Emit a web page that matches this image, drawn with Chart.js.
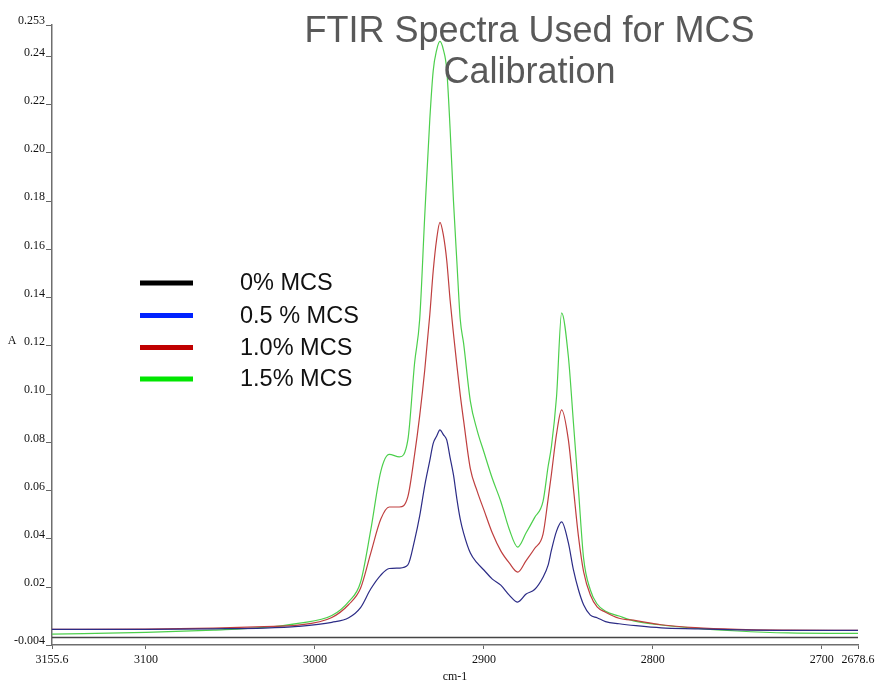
<!DOCTYPE html>
<html><head><meta charset="utf-8">
<script src="https://cdn.jsdelivr.net/npm/chart.js@4"></script>
<style>html,body{margin:0;padding:0;background:#fff}canvas{display:block}</style>
</head><body>
<canvas id="c" width="877" height="686"></canvas>
<script>
const titleLines = ['FTIR Spectra Used for MCS', 'Calibration'];
const seriesLabels = ['0% MCS', '0.5 % MCS', '1.0% MCS', '1.5% MCS'];
const xAxisTitle = 'cm-1';
const yAxisTitle = 'A';

const wavenumbers = [3155.6, 3100, 3060, 3030, 3010, 2990, 2980, 2973, 2967, 2961,
  2956, 2950, 2945, 2941, 2938, 2935, 2932, 2930, 2928, 2926,
  2924, 2922, 2920, 2918, 2916, 2914, 2912, 2908, 2904, 2900,
  2895, 2890, 2885, 2880, 2875, 2870, 2865, 2862, 2860, 2857,
  2854, 2850, 2847, 2844, 2841, 2837, 2833, 2828, 2820, 2810,
  2795, 2775, 2750, 2720, 2678.6];

const abs15 = [0.0005, 0.0012, 0.0022, 0.0033, 0.0050, 0.0082, 0.0140, 0.0220, 0.0435, 0.0680,
  0.0750, 0.0740, 0.0810, 0.1130, 0.1310, 0.1740, 0.2140, 0.2340, 0.2425, 0.2462,
  0.2428, 0.2345, 0.2100, 0.1800, 0.1550, 0.1310, 0.1210, 0.0970, 0.0850, 0.0760,
  0.0650, 0.0555, 0.0440, 0.0366, 0.0425, 0.0488, 0.0555, 0.0700, 0.0785, 0.0990,
  0.1337, 0.1155, 0.0880, 0.0600, 0.0320, 0.0188, 0.0130, 0.0100, 0.0080, 0.0058,
  0.0043, 0.0030, 0.0018, 0.0010, 0.0008];

const abs10 = [0.0025, 0.0026, 0.0030, 0.0036, 0.0042, 0.0074, 0.0128, 0.0195, 0.0340, 0.0482,
  0.0532, 0.0532, 0.0575, 0.0750, 0.0910, 0.1100, 0.1330, 0.1510, 0.1640, 0.1712,
  0.1660, 0.1555, 0.1390, 0.1250, 0.1120, 0.0997, 0.0890, 0.0690, 0.0598, 0.0520,
  0.0424, 0.0350, 0.0300, 0.0262, 0.0310, 0.0360, 0.0420, 0.0565, 0.0670, 0.0835,
  0.0935, 0.0810, 0.0608, 0.0408, 0.0264, 0.0167, 0.0118, 0.0096, 0.0071, 0.0061,
  0.0044, 0.0032, 0.0025, 0.0022, 0.0021];

const abs05 = [0.0025, 0.0025, 0.0027, 0.0030, 0.0037, 0.0054, 0.0073, 0.0115, 0.0192, 0.0250,
  0.0277, 0.0279, 0.0292, 0.0395, 0.0495, 0.0621, 0.0725, 0.0796, 0.0825, 0.0852,
  0.0832, 0.0810, 0.0737, 0.0665, 0.0566, 0.0482, 0.0424, 0.0341, 0.0300, 0.0271,
  0.0233, 0.0208, 0.0167, 0.0138, 0.0171, 0.0190, 0.0241, 0.0291, 0.0354, 0.0432,
  0.0470, 0.0383, 0.0271, 0.0188, 0.0127, 0.0084, 0.0073, 0.0057, 0.0048, 0.0040,
  0.0031, 0.0027, 0.0023, 0.0021, 0.0021];

const zeroWavenumbers = [3155.6, 2678.6];
const abs00 = [-0.0009, -0.0009];

const xTickValues = [3155.6, 3100, 3000, 2900, 2800, 2700, 2678.6];
const xTickLabels = ['3155.6', '3100', '3000', '2900', '2800', '2700', '2678.6'];
const yTickValues = [-0.004, 0.02, 0.04, 0.06, 0.08, 0.10, 0.12, 0.14, 0.16, 0.18, 0.20, 0.22, 0.24, 0.253];
const yTickLabels = ['-0.004', '0.02', '0.04', '0.06', '0.08', '0.10', '0.12', '0.14', '0.16', '0.18', '0.20', '0.22', '0.24', '0.253'];

const lineColors = ['#444444', '#2c2c86', '#bf3f3f', '#4ccf4c'];
const legendColors = ['#000000', '#0022ff', '#c00000', '#00e600'];

const pts = (xs, ys) => xs.map((x, i) => ({x: x, y: ys[i]}));
const serif = '"Liberation Serif", "Times New Roman", serif';
const sans = '"Liberation Sans", Arial, sans-serif';

const overlay = {
  id: 'overlay',
  afterDraw(chart) {
    const ctx = chart.ctx;
    ctx.save();
    ctx.fillStyle = '#595959';
    ctx.font = '36px ' + sans;
    ctx.textAlign = 'center';
    ctx.textBaseline = 'alphabetic';
    ctx.fillText(titleLines[0], 529.5, 42);
    ctx.fillText(titleLines[1], 529.5, 83);

    ctx.font = '23.5px ' + sans;
    ctx.textAlign = 'left';
    ctx.textBaseline = 'middle';
    const ly = [283, 315.5, 347.5, 379];
    seriesLabels.forEach((lab, i) => {
      ctx.strokeStyle = legendColors[i];
      ctx.lineWidth = 5;
      ctx.beginPath();
      ctx.moveTo(140, ly[i]);
      ctx.lineTo(193, ly[i]);
      ctx.stroke();
      ctx.fillStyle = '#111111';
      ctx.fillText(lab, 240, ly[i] + 1);
    });

    ctx.font = '12px ' + serif;
    ctx.fillStyle = '#111111';
    ctx.textAlign = 'center';
    ctx.fillText(yAxisTitle, 12, 341);
    ctx.restore();
  }
};

new Chart(document.getElementById('c'), {
  type: 'line',
  data: {
    datasets: [
      {label: seriesLabels[0], data: pts(zeroWavenumbers, abs00), borderColor: lineColors[0], borderWidth: 1.6},
      {label: seriesLabels[1], data: pts(wavenumbers, abs05), borderColor: lineColors[1], borderWidth: 1.2},
      {label: seriesLabels[2], data: pts(wavenumbers, abs10), borderColor: lineColors[2], borderWidth: 1.2},
      {label: seriesLabels[3], data: pts(wavenumbers, abs15), borderColor: lineColors[3], borderWidth: 1.2}
    ]
  },
  options: {
    responsive: false,
    animation: false,
    devicePixelRatio: 1,
    layout: {padding: {top: 25, right: 19, left: 0, bottom: 0}},
    elements: {point: {radius: 0}, line: {cubicInterpolationMode: 'monotone', fill: false}},
    plugins: {legend: {display: false}, title: {display: false}, tooltip: {enabled: false}},
    scales: {
      x: {
        type: 'linear', reverse: true, min: 2678.6, max: 3155.6,
        afterBuildTicks: s => { s.ticks = xTickValues.map(v => ({value: v})); },
        afterFit: s => { s.height = 41; s.paddingLeft = 0; s.paddingRight = 0; },
        ticks: {autoSkip: false, maxRotation: 0, minRotation: 0, padding: 4, color: '#111',
          font: {family: serif, size: 12}, callback: (v, i) => xTickLabels[i]},
        grid: {display: true, drawOnChartArea: false, drawTicks: true, tickLength: 4, color: '#666', lineWidth: 1},
        border: {display: true, color: '#6e6e6e', width: 1.5},
        title: {display: true, text: xAxisTitle, color: '#111', font: {family: serif, size: 12}, padding: {top: 0, bottom: 2}}
      },
      y: {
        type: 'linear', min: -0.004, max: 0.253,
        afterBuildTicks: s => { s.ticks = yTickValues.map(v => ({value: v})); },
        afterFit: s => { s.width = 52; s.paddingTop = 0; s.paddingBottom = 0; },
        ticks: {autoSkip: false, padding: 1, labelOffset: -4, color: '#111',
          font: {family: serif, size: 12}, callback: (v, i) => yTickLabels[i]},
        grid: {display: true, drawOnChartArea: false, drawTicks: true, tickLength: 6, color: '#666', lineWidth: 1},
        border: {display: true, color: '#6e6e6e', width: 1.5}
      }
    }
  },
  plugins: [overlay]
});
</script>
</body></html>
